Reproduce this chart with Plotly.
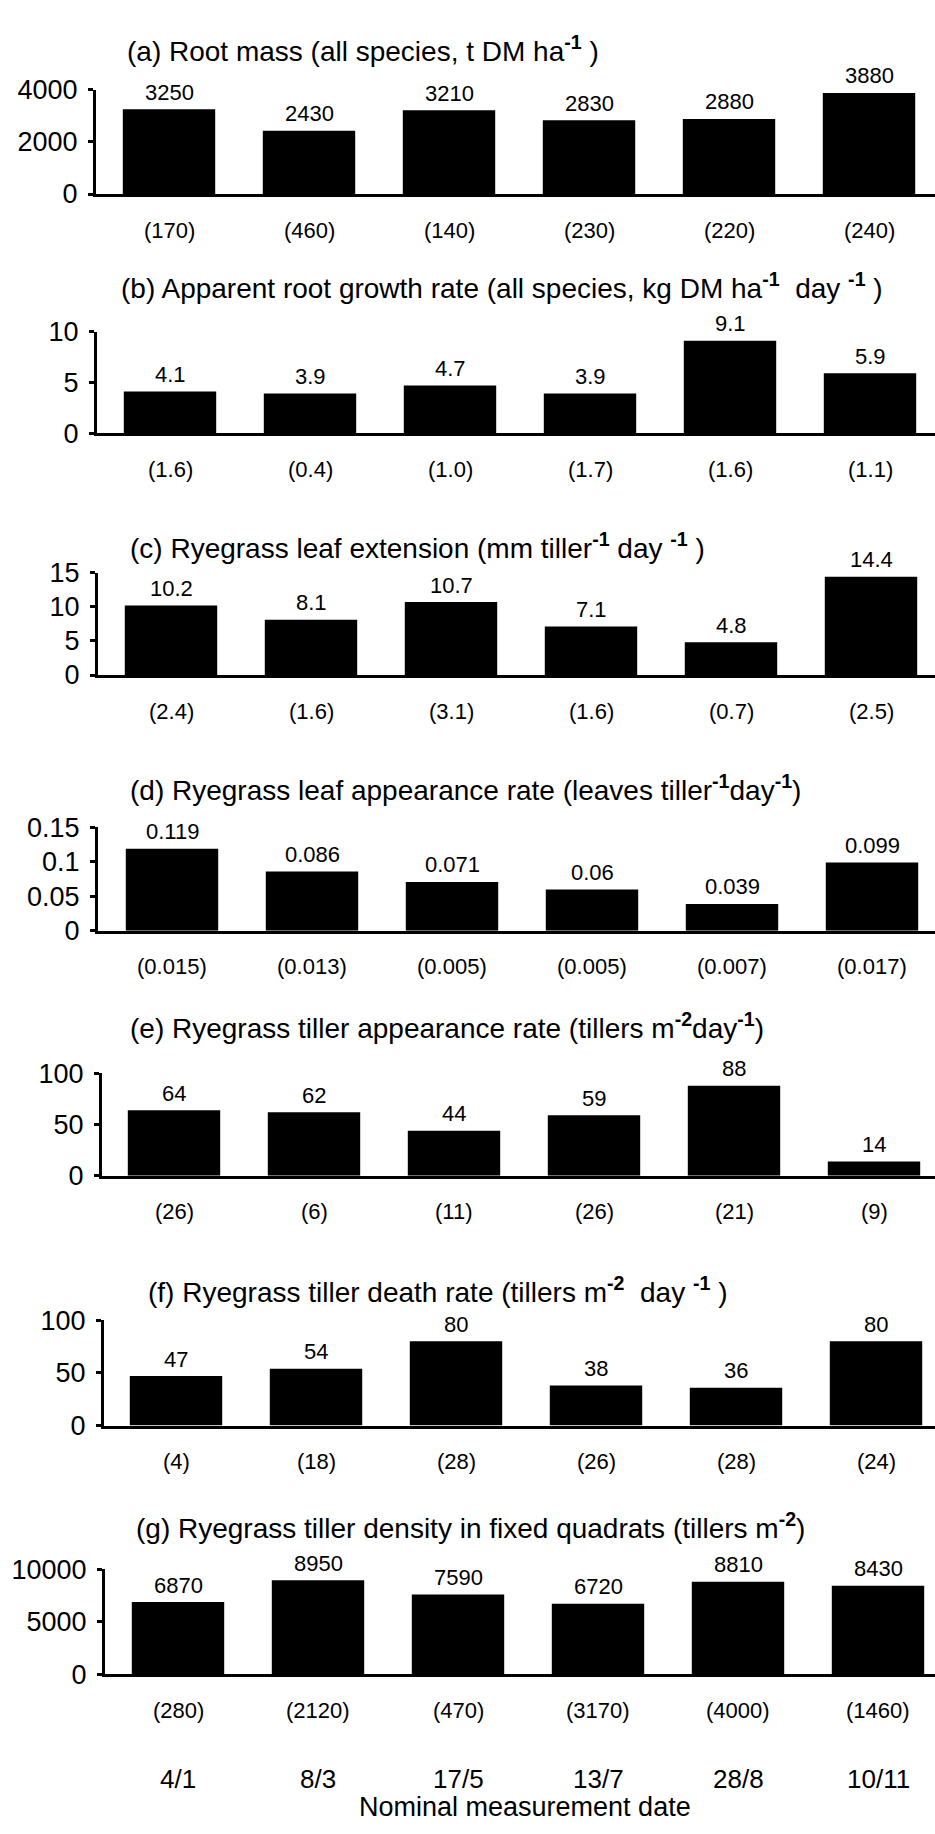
import plotly.graph_objects as go

# ---------------- data ----------------
DATES = ["4/1", "8/3", "17/5", "13/7", "28/8", "10/11"]

ROOT_MASS = [3250, 2430, 3210, 2830, 2880, 3880]
ROOT_MASS_SE = [170, 460, 140, 230, 220, 240]
ROOT_MASS_TICKS = [0, 2000, 4000]

ROOT_GROWTH = [4.1, 3.9, 4.7, 3.9, 9.1, 5.9]
ROOT_GROWTH_SE = ["1.6", "0.4", "1.0", "1.7", "1.6", "1.1"]
ROOT_GROWTH_TICKS = [0, 5, 10]

LEAF_EXT = [10.2, 8.1, 10.7, 7.1, 4.8, 14.4]
LEAF_EXT_SE = ["2.4", "1.6", "3.1", "1.6", "0.7", "2.5"]
LEAF_EXT_TICKS = [0, 5, 10, 15]

LEAF_APP = [0.119, 0.086, 0.071, 0.06, 0.039, 0.099]
LEAF_APP_SE = ["0.015", "0.013", "0.005", "0.005", "0.007", "0.017"]
LEAF_APP_TICKS = [0, 0.05, 0.1, 0.15]

TILLER_APP = [64, 62, 44, 59, 88, 14]
TILLER_APP_SE = [26, 6, 11, 26, 21, 9]
TILLER_APP_TICKS = [0, 50, 100]

TILLER_DEATH = [47, 54, 80, 38, 36, 80]
TILLER_DEATH_SE = [4, 18, 28, 26, 28, 24]
TILLER_DEATH_TICKS = [0, 50, 100]

TILLER_DENS = [6870, 8950, 7590, 6720, 8810, 8430]
TILLER_DENS_SE = [280, 2120, 470, 3170, 4000, 1460]
TILLER_DENS_TICKS = [0, 5000, 10000]

SUP = lambda s: "<sup><b>" + s + "</b></sup>"
TITLES = [
    "(a) Root mass (all species, t DM ha" + SUP("-1") + " )",
    "(b) Apparent root growth rate (all species, kg DM ha" + SUP("-1") + "  day " + SUP("-1") + " )",
    "(c) Ryegrass leaf extension (mm tiller" + SUP("-1") + " day " + SUP("-1") + " )",
    "(d) Ryegrass leaf appearance rate (leaves tiller" + SUP("-1") + "day" + SUP("-1") + ")",
    "(e) Ryegrass tiller appearance rate (tillers m" + SUP("-2") + "day" + SUP("-1") + ")",
    "(f) Ryegrass tiller death rate (tillers m" + SUP("-2") + "  day " + SUP("-1") + " )",
    "(g) Ryegrass tiller density in fixed quadrats (tillers m" + SUP("-2") + ")",
]
X_LABEL = "Nominal measurement date"

panels = [
    (ROOT_MASS, ROOT_MASS_SE, ROOT_MASS_TICKS),
    (ROOT_GROWTH, ROOT_GROWTH_SE, ROOT_GROWTH_TICKS),
    (LEAF_EXT, LEAF_EXT_SE, LEAF_EXT_TICKS),
    (LEAF_APP, LEAF_APP_SE, LEAF_APP_TICKS),
    (TILLER_APP, TILLER_APP_SE, TILLER_APP_TICKS),
    (TILLER_DEATH, TILLER_DEATH_SE, TILLER_DEATH_TICKS),
    (TILLER_DENS, TILLER_DENS_SE, TILLER_DENS_TICKS),
]

# ---------------- layout geometry (pixels) ----------------
W, H = 935, 1834
TOP_PX = [76, 322, 567, 826, 1076, 1327, 1580]
ZERO_PX = [182, 425, 671, 931, 1180, 1434, 1687]
AXIS_X_PX = [96, 97, 98, 98, 102, 104, 105]
FIRST_CENTER_PX = [169, 170, 171, 172, 174, 176, 178]
TITLE_Y_PX = [35, 276, 540, 786, 1028, 1296, 1536]
TITLE_X_PX = [125, 119, 128, 128, 128, 146, 134]
SPACING = 140.0

FONT = "Liberation Sans, Arial, Helvetica, sans-serif"

fig = go.Figure()
annotations = []
layout = dict(
    width=W, height=H, margin=dict(l=0, r=0, t=0, b=0),
    paper_bgcolor="white", plot_bgcolor="white", showlegend=False,
    font=dict(family=FONT, color="black"),
    bargap=0.34,
)

cats = list(range(len(DATES)))
for i, (vals, se, ticks) in enumerate(panels):
    n = "" if i == 0 else str(i + 1)
    xa, ya = "x" + n, "y" + n
    fig.add_trace(go.Bar(x=cats, y=vals, marker=dict(color="black", line=dict(width=0)),
                         xaxis=xa, yaxis=ya, hoverinfo="skip"))
    left = -(FIRST_CENTER_PX[i] - AXIS_X_PX[i]) / SPACING
    right = (W - FIRST_CENTER_PX[i]) / SPACING
    layout["xaxis" + n] = dict(
        domain=[AXIS_X_PX[i] / W, 1.0], range=[left, right], anchor=ya,
        showline=True, linecolor="black", linewidth=3, showticklabels=False,
        ticks="", showgrid=False, zeroline=False, fixedrange=True,
    )
    layout["yaxis" + n] = dict(
        domain=[1 - ZERO_PX[i] / H, 1 - TOP_PX[i] / H], range=[0, ticks[-1]], anchor=xa,
        showline=True, linecolor="black", linewidth=3,
        tickvals=ticks, ticktext=[("%g" % t) for t in ticks],
        ticks="outside", ticklen=5, tickwidth=3, tickcolor="black",
        ticklabelstandoff=5,
        tickfont=dict(size=27, family=FONT, color="black"),
        showgrid=False, zeroline=False, fixedrange=True,
    )
    # title
    annotations.append(dict(
        text=TITLES[i], xref="paper", yref="paper",
        x=TITLE_X_PX[i] / W, y=1 - TITLE_Y_PX[i] / H, xanchor="left", yanchor="middle",
        showarrow=False, font=dict(size=28, family=FONT, color="black"),
    ))
    for j, v in enumerate(vals):
        # value above bar
        annotations.append(dict(
            text=("%g" % v), xref=xa, yref=ya, x=j, y=v, xanchor="center", yanchor="middle",
            yshift=17, showarrow=False, font=dict(size=22, family=FONT, color="black"),
        ))
        # standard error below axis
        annotations.append(dict(
            text="(" + str(se[j]) + ")", xref=xa, yref=ya + " domain", x=j, y=0,
            xanchor="center", yanchor="middle", yshift=-36, showarrow=False,
            font=dict(size=22, family=FONT, color="black"),
        ))

# date labels under the last panel
last = len(panels)
for j, d in enumerate(DATES):
    annotations.append(dict(
        text=d, xref="x" + str(last), yref="y" + str(last) + " domain", x=j, y=0,
        xanchor="center", yanchor="middle", yshift=-(1792 - ZERO_PX[-1]), showarrow=False,
        font=dict(size=26, family=FONT, color="black"),
    ))
annotations.append(dict(
    text=X_LABEL, xref="paper", yref="paper", x=525 / W, y=1 - 1822 / H,
    xanchor="center", yanchor="middle", showarrow=False,
    font=dict(size=27, family=FONT, color="black"),
))

layout["annotations"] = annotations
fig.update_layout(**layout)
fig.write_html("out.html")
